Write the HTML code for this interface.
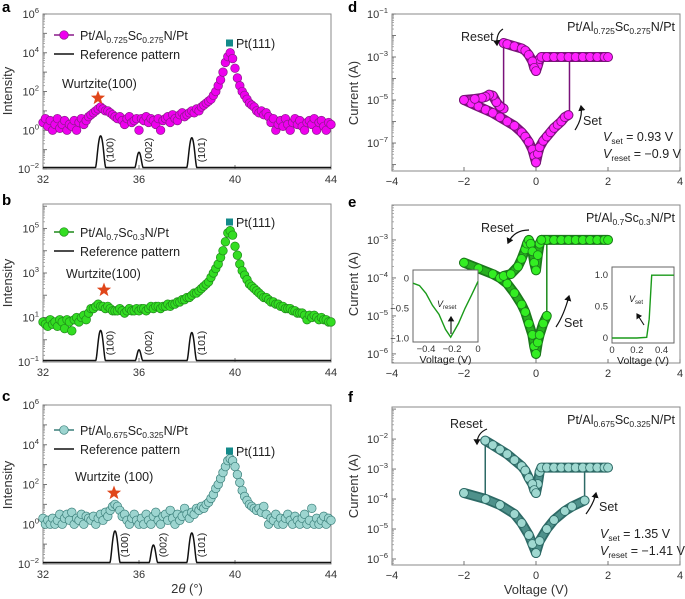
<!DOCTYPE html>
<html><head><meta charset="utf-8">
<style>
html,body{margin:0;padding:0;background:#fff;}
svg{display:block;font-family:"Liberation Sans",sans-serif;}
</style></head>
<body>
<svg id="fig" width="685" height="599" viewBox="0 0 685 599" xmlns="http://www.w3.org/2000/svg"></svg>
<script>
// ---------- XRD data (log10 intensity, 2θ from 32 to 44, step 0.1) ----------
const thetaStart = 32, thetaStep = 0.1;
const xrdLogA = [0.4,0.6,0.2,0.5,0.0,0.3,0.6,0.1,0.3,0.5,0.0,
0.3,0.2,0.5,0.0,0.4,0.6,0.3,0.5,0.7,0.8,
0.9,1.0,1.1,1.2,1.1,1.0,1.0,0.9,0.8,0.7,
0.6,0.7,0.5,0.3,0.6,0.7,0.4,0.5,0.6,0.0,
0.6,0.5,0.7,0.4,0.6,0.5,0.3,0.6,0.0,0.5,
0.6,0.7,0.4,0.8,0.6,0.5,0.8,0.9,0.7,0.8,
0.9,1.0,0.9,1.1,1.0,1.2,1.3,1.4,1.5,1.6,
1.8,2.0,2.3,2.6,3.0,3.5,3.8,4.0,3.7,3.2,
2.7,2.3,2.0,1.8,1.6,1.4,1.3,1.2,1.0,0.9,
1.0,0.8,0.9,0.7,0.4,0.6,0.0,0.3,0.5,0.2,
0.6,0.3,0.0,0.4,0.6,0.3,0.5,0.2,0.0,0.4,
0.5,0.3,0.6,0.0,0.4,0.5,0.2,0.0,0.4,0.3];
const xrdLogB = [0.8,0.7,0.6,0.9,0.7,0.8,0.6,0.9,0.8,0.5,0.9,
0.8,0.4,0.9,1.0,0.8,1.0,1.1,0.9,1.2,1.4,
1.4,1.5,1.6,1.5,1.5,1.4,1.5,1.4,1.3,1.3,
1.3,1.4,1.3,1.2,1.3,1.4,1.3,1.3,1.4,1.3,
1.4,1.4,1.3,1.4,1.5,1.4,1.5,1.5,1.4,1.5,
1.5,1.6,1.5,1.6,1.6,1.7,1.7,1.8,1.8,1.9,
1.9,2.0,2.1,2.1,2.2,2.3,2.4,2.5,2.6,2.8,
3.0,3.2,3.4,3.7,4.0,4.4,4.8,4.9,4.7,4.2,
3.8,3.4,3.1,2.9,2.7,2.5,2.4,2.3,2.2,2.1,
2.0,1.9,1.9,1.8,1.7,1.7,1.6,1.6,1.5,1.5,
1.4,1.4,1.4,1.3,1.3,1.2,1.2,1.2,1.1,0.9,
1.1,1.0,1.1,1.0,0.9,1.0,0.9,0.9,0.8,0.8];
const xrdLogC = [0.3,0.0,0.2,0.0,0.3,0.0,0.2,0.5,0.0,0.3,0.5,
0.2,0.6,0.0,0.3,0.2,0.5,0.0,0.4,0.3,0.2,
0.4,0.0,0.3,0.5,0.2,0.6,0.4,0.7,0.9,1.0,
0.9,0.7,0.4,0.5,0.2,0.0,0.3,0.5,0.2,0.0,
0.3,0.0,0.5,0.2,0.0,0.4,0.6,0.2,0.0,0.4,
0.5,0.2,0.7,0.3,0.0,0.5,0.2,0.4,0.8,0.5,
0.3,0.6,0.5,0.8,0.7,0.9,0.8,1.0,1.1,1.3,
1.5,1.8,2.0,2.3,2.6,2.9,3.2,3.3,3.2,2.9,
2.5,2.1,1.7,1.4,1.2,1.0,0.9,0.8,0.7,0.8,
0.6,0.9,0.5,0.0,0.3,0.2,0.5,0.0,0.3,0.0,
0.3,0.5,0.2,0.0,0.4,0.2,0.0,0.3,0.5,0.0,
0.2,0.8,0.0,0.3,0.0,0.2,0.4,0.0,0.3,0.2];
const refPosAB = [34.4, 36.0, 38.2];
const refPosC = [35.0, 36.6, 38.2];
const refHA = [-0.3, -1.2, -0.4];
const refHB = [0.4, -0.6, 0.3];
const refHC = [-0.35, -1.1, -0.45];
const refLabels = ["(100)", "(002)", "(101)"];
const xTicksXRD = [32, 36, 40, 44];

// ---------- I-V data (V, log10 I) ----------
const dLrsPosV = [0,0.05,0.1,0.15,0.3,0.5,0.7,0.9,1.1,1.3,1.5,1.7,1.9,2.0];
const dLrsPosI = [-3.65,-3.4,-3.1,-3.0,-3.0,-3.0,-3.0,-3.0,-3.0,-3.0,-3.0,-3.0,-3.0,-3.0];
const dLrsNegV = [-0.9,-0.8,-0.6,-0.4,-0.3,-0.2,-0.1,-0.05,0];
const dLrsNegI = [-2.35,-2.4,-2.5,-2.6,-2.7,-2.9,-3.2,-3.5,-3.65];
const dHrsNegV = [-2,-1.8,-1.6,-1.4,-1.2,-1.0,-0.8,-0.6,-0.4,-0.3,-0.2,-0.1,-0.05,0];
const dHrsNegI = [-5.0,-5.15,-5.3,-5.45,-5.6,-5.8,-6.0,-6.2,-6.5,-6.7,-6.95,-7.3,-7.6,-7.9];
const dLoopV = [-0.9,-1.0,-1.1,-1.2,-1.3,-1.4,-1.5,-1.7,-2.0];
const dLoopI = [-5.4,-5.3,-5.1,-4.8,-4.75,-4.85,-4.9,-4.95,-5.0];
const dHrsPosV = [0,0.05,0.1,0.2,0.3,0.4,0.5,0.6,0.7,0.8,0.9];
const dHrsPosI = [-7.9,-7.5,-7.2,-6.9,-6.7,-6.5,-6.3,-6.15,-6.0,-5.8,-5.7];
const dSwitch = [[0.93,-5.7,-3.0],[-0.9,-2.4,-5.4]];

const eLrsPosV = [0.15,0.3,0.5,0.7,0.9,1.1,1.3,1.5,1.7,1.9,2.0];
const eLrsPosI = [-3.0,-3.0,-3.0,-3.0,-3.0,-3.0,-3.0,-3.0,-3.0,-3.0,-3.0];
const eResetV = [-0.9,-0.7,-0.5,-0.4,-0.3,-0.25,-0.2,-0.15,-0.1,-0.05,0,0.05,0.1,0.15];
const eResetI = [-3.95,-3.9,-3.7,-3.5,-3.25,-3.1,-3.0,-3.1,-3.3,-3.6,-3.8,-3.4,-3.1,-3.0];
const eHrsNegV = [-2,-1.6,-1.2,-1.0,-0.8,-0.6,-0.4,-0.3,-0.2,-0.1,-0.05,0];
const eHrsNegI = [-3.6,-3.75,-3.9,-4.0,-4.15,-4.4,-4.7,-4.9,-5.2,-5.5,-5.8,-6.0];
const eHrsPosV = [0,0.05,0.1,0.2,0.3];
const eHrsPosI = [-6.0,-5.7,-5.5,-5.2,-5.0];
const eSwitch = [[0.3,-5.0,-3.0]];
const insetLV = [-0.5,-0.45,-0.4,-0.35,-0.3,-0.25,-0.21,-0.15,-0.1,-0.05,0];
const insetLI = [-0.08,-0.12,-0.25,-0.45,-0.6,-0.85,-0.98,-0.75,-0.5,-0.28,-0.05];
const insetRV = [0,0.1,0.2,0.28,0.3,0.32,0.4,0.5];
const insetRI = [0,0,0,0.01,0.3,1.0,1.0,1.0];

const fLrsPosV = [0,0.05,0.1,0.15,0.3,0.5,0.7,0.9,1.1,1.3,1.5,1.7,1.9,2.0];
const fLrsPosI = [-3.8,-3.5,-3.1,-2.95,-2.95,-2.95,-2.95,-2.95,-2.95,-2.95,-2.95,-2.95,-2.95,-2.95];
const fLrsNegV = [-1.41,-1.2,-1.0,-0.8,-0.6,-0.4,-0.3,-0.2,-0.1,-0.05,0];
const fLrsNegI = [-2.05,-2.2,-2.35,-2.5,-2.7,-2.9,-3.05,-3.3,-3.5,-3.7,-3.8];
const fHrsNegV = [-2,-1.4,-1.0,-0.6,-0.4,-0.2,-0.1,0];
const fHrsNegI = [-3.8,-4.0,-4.2,-4.5,-4.8,-5.2,-5.5,-5.8];
const fHrsPosV = [0,0.1,0.3,0.5,0.8,1.0,1.35];
const fHrsPosI = [-5.8,-5.4,-5.0,-4.7,-4.4,-4.25,-4.05];
const fSwitch = [[1.35,-4.05,-2.95],[-1.41,-2.05,-4.0]];
const xTicksIV = [-4,-2,0,2,4];

const NS = "http://www.w3.org/2000/svg";
const svg = document.getElementById("fig");
function el(tag, attrs, parent, text){
  const e = document.createElementNS(NS, tag);
  for (const k in attrs) e.setAttribute(k, attrs[k]);
  if (text !== undefined) e.textContent = text;
  (parent || svg).appendChild(e);
  return e;
}
function supText(parent, x, y, base, sup, size, anchor){
  const t = el("text", {x:x, y:y, "font-size":size, fill:"#333", "text-anchor":anchor||"end"}, parent);
  
  
  el("tspan", {}, t, base);
  el("tspan", {dy:-5, "font-size":size*0.7}, t, sup);
  return t;
}
function logAxis(g, x0, yTop, yBot, lTop, lBot, majors, labeled){
  const ys = v => yTop + (lTop - v) / (lTop - lBot) * (yBot - yTop);
  for (let d = Math.ceil(lBot); d <= Math.floor(lTop); d++){
    const major = el("line", {x1:x0, x2:x0+4, y1:ys(d), y2:ys(d), stroke:"#777", "stroke-width":1}, g);
    
    
    for (let m = 2; m < 10; m++){
      const v = d + Math.log10(m);
      if (v > lTop) break;
      const mt = el("line", {x1:x0, x2:x0+2, y1:ys(v), y2:ys(v), stroke:"#999", "stroke-width":0.8}, g);
      
      
    }
  }
  for (let m = 2; m < 10; m++){
    const v = Math.floor(lBot) + Math.log10(m);
    if (v < lBot) continue;
    const mt = el("line", {x1:x0, x2:x0+2, y1:ys(v), y2:ys(v), stroke:"#999", "stroke-width":0.8}, g);
    
    
  }
  labeled.forEach(d => supText(g, x0-4, ys(d)+4, "10", String(d).replace("-","−"), 11));
  return ys;
}
function frame(g, x0, x1, yTop, yBot){
  const r = el("rect", {x:x0, y:yTop, width:x1-x0, height:yBot-yTop, fill:"none", stroke:"#888", "stroke-width":1}, g);
  
  
}
function panelLetter(x, y, s){
  const t = el("text", {x:x, y:y, "font-size":15, "font-weight":"bold", fill:"#000"}, svg, s);
  
  
}
function yTitle(x, yc, s){
  const t = el("text", {x:x, y:yc, "font-size":13, fill:"#333", "text-anchor":"middle", transform:`rotate(-90 ${x} ${yc})`}, svg, s);
  
  
}
function star(g, cx, cy, r){
  let p = [];
  for (let i = 0; i < 10; i++){
    const a = -Math.PI/2 + i*Math.PI/5, rr = i%2 ? r*0.42 : r;
    p.push((cx + rr*Math.cos(a)).toFixed(1) + "," + (cy + rr*Math.sin(a)).toFixed(1));
  }
  const s = el("polygon", {points:p.join(" "), fill:"#e0461a"}, g);
  
  
}

// ---------- XRD panel ----------
function xrdPanel(o){
  const g = el("g", {}, svg);
  
  
  const x0 = 43, x1 = 331;
  const xs = t => x0 + (t - 32) / 12 * (x1 - x0);
  frame(g, x0, x1, o.yTop, o.yBot);
  const ys = logAxis(g, x0, o.yTop, o.yBot, o.lTop, o.lBot, null, o.yLabels);
  xTicksXRD.forEach(t => {
    const tk = el("line", {x1:xs(t), x2:xs(t), y1:o.yBot, y2:o.yBot-4, stroke:"#777"}, g);
    
    
    const tl = el("text", {x:xs(t), y:o.yBot+14, "font-size":11, fill:"#333", "text-anchor":"middle"}, g, String(t));
    
    
  });
  // reference pattern
  let d = "";
  for (let t = 32; t <= 44.0001; t += 0.01){
    let v = Math.pow(10, o.refBase);
    o.refPos.forEach((p, i) => { v += Math.pow(10, o.refH[i]) * Math.exp(-Math.pow((t-p)/0.09, 2)); });
    const y = Math.max(ys(Math.log10(v)), o.yTop);
    d += (d ? "L" : "M") + xs(t).toFixed(2) + "," + Math.min(y, o.yBot - 1.5).toFixed(2);
  }
  const rp = el("path", {d:d, fill:"none", stroke:"#111", "stroke-width":1.5}, g);
  
  
  o.refPos.forEach((p, i) => {
    const lx = xs(p) + 13, ly = Math.min(ys(o.refH[i]) + 18, o.yBot - 19);
    const t = el("text", {x:lx, y:ly, "font-size":10.5, fill:"#222", "text-anchor":"middle", transform:`rotate(-90 ${lx} ${ly})`}, g, refLabels[i]);
    
    
  });
  // data
  o.data.forEach((v, i) => {
    const t = thetaStart + i * thetaStep;
    const c = el("circle", {cx:xs(t), cy:Math.min(ys(v), o.yBot), r:4.3, fill:o.fill, stroke:o.edge, "stroke-width":0.7}, g);
    
    
  });
  // Pt(111) marker
  const pk = el("rect", {x:226, y:o.ptY-3.5, width:7, height:7, fill:"#138a8a"}, g);
  
  
  const pt = el("text", {x:236, y:o.ptY+5, "font-size":12.5, fill:"#222"}, g, "Pt(111)");
  
  
  star(g, o.starX, o.starY, 7.5);
  const wt = el("text", {x:o.wX, y:o.wY, "font-size":12.5, fill:"#222"}, g, o.wText);
  
  
  // legend
  const lg = el("g", {}, g);
  
  
  el("line", {x1:54, x2:74, y1:o.legY, y2:o.legY, stroke:o.edge, "stroke-width":1.5}, lg);
  el("circle", {cx:64, cy:o.legY, r:4.3, fill:o.fill, stroke:o.edge, "stroke-width":0.7}, lg);
  const lt = el("text", {x:80, y:o.legY+5, "font-size":12.5, fill:"#222"}, lg);
  
  
  el("tspan", {}, lt, "Pt/Al");
  el("tspan", {dy:3, "font-size":8.5}, lt, o.al);
  el("tspan", {dy:-3}, lt, "Sc");
  el("tspan", {dy:3, "font-size":8.5}, lt, o.sc);
  el("tspan", {dy:-3}, lt, "N/Pt");
  el("line", {x1:54, x2:74, y1:o.legY+19, y2:o.legY+19, stroke:"#111", "stroke-width":1.5}, lg);
  const lr = el("text", {x:80, y:o.legY+24, "font-size":12.5, fill:"#222"}, lg, "Reference pattern");
  
  
}

xrdPanel({name:"panel-a", yTop:14, yBot:169, lTop:6, lBot:-2, yLabels:[6,4,2,0,-2], data:xrdLogA,
  fill:"#ee00ee", edge:"#8a1a8a", refPos:refPosAB, refH:refHA, refBase:-2, ptY:43,
  starX:98, starY:98, wX:62, wY:88, wText:"Wurtzite(100)", legY:35, al:"0.725", sc:"0.275"});
xrdPanel({name:"panel-b", yTop:204, yBot:362, lTop:6.1, lBot:-1, yLabels:[5,3,1,-1], data:xrdLogB,
  fill:"#33dd22", edge:"#1f8a1a", refPos:refPosAB, refH:refHB, refBase:-1, ptY:222,
  starX:104, starY:290, wX:66, wY:278, wText:"Wurtzite(100)", legY:232, al:"0.7", sc:"0.3"});
xrdPanel({name:"panel-c", yTop:405, yBot:564, lTop:6, lBot:-2, yLabels:[6,4,2,0,-2], data:xrdLogC,
  fill:"#9dd5d0", edge:"#3a7f7a", refPos:refPosC, refH:refHC, refBase:-2, ptY:451,
  starX:114, starY:493, wX:75, wY:481, wText:"Wurtzite (100)", legY:430, al:"0.675", sc:"0.325"});

// ---------- I-V panel ----------
function ivPanel(o){
  const g = el("g", {}, svg);
  
  
  const x0 = 392, x1 = 680;
  const xs = v => x0 + (v + 4) / 8 * (x1 - x0);
  frame(g, x0, x1, o.yTop, o.yBot);
  const ys = logAxis(g, x0, o.yTop, o.yBot, o.lTop, o.lBot, null, o.yLabels);
  xTicksIV.forEach(t => {
    const tk = el("line", {x1:xs(t), x2:xs(t), y1:o.yBot, y2:o.yBot-4, stroke:"#777"}, g);
    
    
    const tl = el("text", {x:xs(t), y:o.yBot+14, "font-size":11, fill:"#333", "text-anchor":"middle"}, g, String(t).replace("-","−"));
    
    
  });
  o.switches.forEach(s => {
    const l = el("line", {x1:xs(s[0]), x2:xs(s[0]), y1:ys(s[1]), y2:ys(s[2]), stroke:o.line, "stroke-width":1.5}, g);
    
    
  });
  o.branches.forEach(b => {
    const pts = b[0].map((v, i) => xs(v).toFixed(1) + "," + ys(b[1][i]).toFixed(1)).join(" ");
    const pl = el("polyline", {points:pts, fill:"none", stroke:o.edge, "stroke-width":10, "stroke-linejoin":"round", "stroke-linecap":"round"}, g);
    
    
    const pl2 = el("polyline", {points:pts, fill:"none", stroke:o.mid, "stroke-width":6.5, "stroke-linejoin":"round", "stroke-linecap":"round"}, g);
    
    
  });
  o.branches.forEach(b => {
    b[0].forEach((v, i) => {
      const c = el("circle", {cx:xs(v), cy:ys(b[1][i]), r:4.4, fill:o.fill, stroke:o.edge, "stroke-width":0.8}, g);
      
      
    });
  });
  const tt = el("text", {x:675, y:o.yTop+17, "font-size":12.5, fill:"#222", "text-anchor":"end"}, g);
  
  
  el("tspan", {}, tt, "Pt/Al");
  el("tspan", {dy:3, "font-size":8.5}, tt, o.al);
  el("tspan", {dy:-3}, tt, "Sc");
  el("tspan", {dy:3, "font-size":8.5}, tt, o.sc);
  el("tspan", {dy:-3}, tt, "N/Pt");
  const rs = el("text", {x:o.resetX, y:o.resetY, "font-size":12.5, fill:"#222"}, g, "Reset");
  
  
  const st = el("text", {x:o.setX, y:o.setY, "font-size":12.5, fill:"#222"}, g, "Set");
  
  
  o.arrows.forEach(a => {
    const p = el("path", {d:a, fill:"none", stroke:"#111", "stroke-width":1.2, "marker-end":"url(#ah)"}, g);
    
    
  });
  if (o.vset){
    [[o.vset, "set", 0], [o.vreset, "reset", 17]].forEach(r => {
      const t = el("text", {x:o.vX, y:o.vY + r[2], "font-size":12.5, fill:"#222"}, g);
      
      
      el("tspan", {"font-style":"italic"}, t, "V");
      el("tspan", {dy:3, "font-size":8.5}, t, r[1]);
      el("tspan", {dy:-3}, t, " = " + r[0]);
    });
  }
  return {g, xs, ys};
}
const defs = el("defs", {});
const mk = el("marker", {id:"ah", markerWidth:6, markerHeight:6, refX:4, refY:3, orient:"auto"}, defs);
el("path", {d:"M0,0 L5,3 L0,6 Z", fill:"#111"}, mk);

ivPanel({name:"panel-d", yTop:14, yBot:171, lTop:-1, lBot:-8.3, yLabels:[-1,-3,-5,-7],
  fill:"#ff22ff", mid:"#b818b8", edge:"#7a127a", line:"#7a127a", al:"0.725", sc:"0.275",
  branches:[[dLrsPosV,dLrsPosI],[dLrsNegV,dLrsNegI],[dHrsNegV,dHrsNegI],[dLoopV,dLoopI],[dHrsPosV,dHrsPosI]],
  switches:dSwitch, resetX:461, resetY:41, setX:583, setY:125,
  arrows:["M503,29 Q496,33 497,45","M575,130 Q583,118 581,106"],
  vset:"0.93 V", vreset:"−0.9 V", vX:603, vY:141});
const e = ivPanel({name:"panel-e", yTop:205, yBot:363, lTop:-2.08, lBot:-6.24, yLabels:[-3,-4,-5,-6],
  fill:"#33ee22", mid:"#26b01e", edge:"#1a7a1a", line:"#1a8a1a", al:"0.7", sc:"0.3",
  branches:[[eLrsPosV,eLrsPosI],[eHrsNegV,eHrsNegI],[eResetV,eResetI],[eHrsPosV,eHrsPosI]],
  switches:eSwitch, resetX:481, resetY:232, setX:564, setY:327,
  arrows:["M529,230 Q514,230 508,243","M556,327 Q564,315 569,296"]});
ivPanel({name:"panel-f", yTop:407, yBot:565, lTop:-0.93, lBot:-6.2, yLabels:[-2,-3,-4,-5,-6],
  fill:"#9fd8d0", mid:"#4e918b", edge:"#2d6a66", line:"#2d6a66", al:"0.675", sc:"0.325",
  branches:[[fLrsPosV,fLrsPosI],[fLrsNegV,fLrsNegI],[fHrsNegV,fHrsNegI],[fHrsPosV,fHrsPosI]],
  switches:fSwitch, resetX:450, resetY:428, setX:599, setY:511,
  arrows:["M487,429 Q477,433 477,444","M586,514 Q594,503 596,493"],
  vset:"1.35 V", vreset:"−1.41 V", vX:600, vY:538});

// insets of panel e
function inset(name, x0, x1, y0, y1, xMin, xMax, yMin, yMax, vx, vy, xt, yt, xl){
  const g = el("g", {}, svg);
  
  
  const bg = el("rect", {x:x0, y:y0, width:x1-x0, height:y1-y0, fill:"#fff", stroke:"#666", "stroke-width":1}, g);
  
  
  const xs = v => x0 + (v - xMin) / (xMax - xMin) * (x1 - x0);
  const ys = v => y1 - (v - yMin) / (yMax - yMin) * (y1 - y0);
  const pl = el("polyline", {points:vx.map((v,i)=>xs(v).toFixed(1)+","+ys(vy[i]).toFixed(1)).join(" "), fill:"none", stroke:"#1a9a1a", "stroke-width":1.4}, g);
  
  
  xt.forEach(t => {
    const l = el("text", {x:xs(t), y:y1+10, "font-size":9.5, fill:"#333", "text-anchor":"middle"}, g, String(t).replace("-","−"));
    
    
  });
  yt.forEach(t => {
    const l = el("text", {x:x0-4, y:ys(t)+3, "font-size":9.5, fill:"#333", "text-anchor":"end"}, g, (t===0?"0":t.toFixed(1)).replace("-","−"));
    
    
  });
  const xlab = el("text", {x:(x0+x1)/2, y:y1+21, "font-size":10.5, fill:"#222", "text-anchor":"middle"}, g, "Voltage (V)");
  
  
  const vl = el("text", {x:xl[0], y:xl[1], "font-size":9, fill:"#222"}, g);
  
  
  el("tspan", {"font-style":"italic"}, vl, "V");
  el("tspan", {dy:2, "font-size":6}, vl, xl[2]);
  const ar = el("path", {d:xl[3], stroke:"#111", "stroke-width":1.1, fill:"none", "marker-end":"url(#ah)"}, g);
  
  
}
inset("inset-reset", 413, 478, 270, 342, -0.5, 0, -1.06, 0.14, insetLV, insetLI, [-0.4,-0.2,0], [0,-0.5,-1.0],
  [437, 307, "reset", "M451,334 L451,317"]);
inset("inset-set", 612, 674, 267, 343, 0, 0.5, -0.08, 1.13, insetRV, insetRI, [0,0.2,0.4], [1.0,0.5,0],
  [629, 302, "set", "M644,325 L637,314"]);

// panel letters and axis titles
panelLetter(2, 12, "a"); panelLetter(2, 205, "b"); panelLetter(2, 401, "c");
panelLetter(348, 12, "d"); panelLetter(348, 207, "e"); panelLetter(348, 402, "f");
yTitle(12, 91, "Intensity"); yTitle(12, 283, "Intensity"); yTitle(12, 485, "Intensity");
yTitle(358, 93, "Current (A)"); yTitle(358, 284, "Current (A)"); yTitle(358, 486, "Current (A)");
const xt1 = el("text", {x:187, y:593, "font-size":13, fill:"#333", "text-anchor":"middle"}, svg);


el("tspan", {}, xt1, "2");
el("tspan", {"font-style":"italic"}, xt1, "θ");
el("tspan", {}, xt1, " (°)");
const xt2 = el("text", {x:536, y:594, "font-size":13, fill:"#333", "text-anchor":"middle"}, svg, "Voltage (V)");


</script>
</body></html>
